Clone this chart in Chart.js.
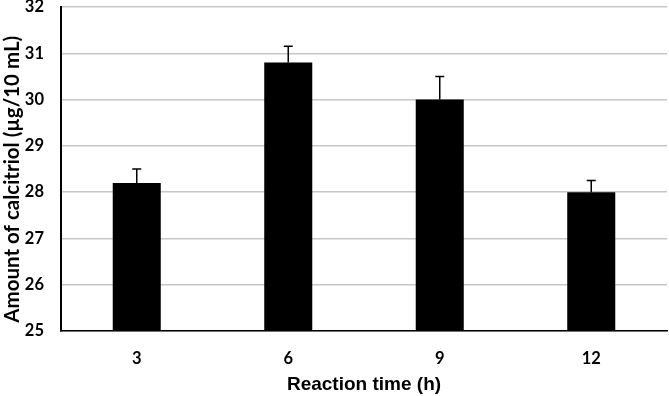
<!DOCTYPE html>
<html><head><meta charset="utf-8">
<script src="https://cdn.jsdelivr.net/npm/chart.js@4"></script>
<style>html,body{margin:0;padding:0;background:#fff}#w{width:669px;height:396px}</style>
</head><body><div id="w"><canvas id="c"></canvas></div>
<script>
const categories = ["3", "6", "9", "12"];
const values = [28.2, 30.8, 30.0, 28.0];
const errors = [0.3, 0.35, 0.5, 0.25];
const yTicks = [25, 26, 27, 28, 29, 30, 31, 32];

const errorPlugin = {
  id: 'errbars',
  afterDatasetsDraw(chart) {
    const ctx = chart.ctx, y = chart.scales.y;
    const meta = chart.getDatasetMeta(0);
    ctx.save();
    ctx.strokeStyle = '#000';
    ctx.lineWidth = 1.5;
    meta.data.forEach((bar, i) => {
      const top = y.getPixelForValue(values[i] + errors[i]);
      ctx.beginPath();
      ctx.moveTo(bar.x, bar.y);
      ctx.lineTo(bar.x, top);
      ctx.moveTo(bar.x - 4.5, top);
      ctx.lineTo(bar.x + 4.5, top);
      ctx.stroke();
    });
    ctx.restore();
  }
};

new Chart(document.getElementById('c'), {
  type: 'bar',
  data: { labels: categories, datasets: [{ data: values, backgroundColor: '#000', borderWidth: 0, categoryPercentage: 1, barPercentage: 0.317 }] },
  options: {
    responsive: true, maintainAspectRatio: false, animation: false,
    layout: { padding: { top: 7, right: 2, left: 0, bottom: 0 } },
    plugins: { legend: { display: false }, tooltip: { enabled: false } },
    scales: {
      x: {
        grid: { display: false, drawTicks: false },
        border: { display: true, color: '#000', width: 1.5 },
        ticks: { color: '#000', font: { family: 'Lato', weight: 'bold', size: 16.5 }, padding: 18 },
        title: { display: true, text: 'Reaction time (h)', color: '#000', font: { family: 'Liberation Sans', weight: 'bold', size: 19 }, padding: { top: 0, bottom: 0 } },
        afterFit(s) { s.height = 65; }
      },
      y: {
        min: 25, max: 32,
        afterBuildTicks(s) { s.ticks = yTicks.map(v => ({ value: v })); },
        grid: { color: '#c6c6c6', lineWidth: 1.5, drawTicks: false },
        border: { display: true, color: '#000', width: 2 },
        ticks: { color: '#000', font: { family: 'Lato', weight: 'bold', size: 16.5 }, padding: 17 },
        title: { display: true, text: 'Amount of calcitriol (µg/10 mL)\u2002\u2002', color: '#000', font: { family: 'Lato', weight: 'bold', size: 20.5 }, padding: { top: 0, bottom: 0 } },
        afterFit(s) { s.width = 61; s.paddingTop = 0; s.paddingBottom = 0; }
      }
    }
  },
  plugins: [errorPlugin]
});
</script></body></html>
